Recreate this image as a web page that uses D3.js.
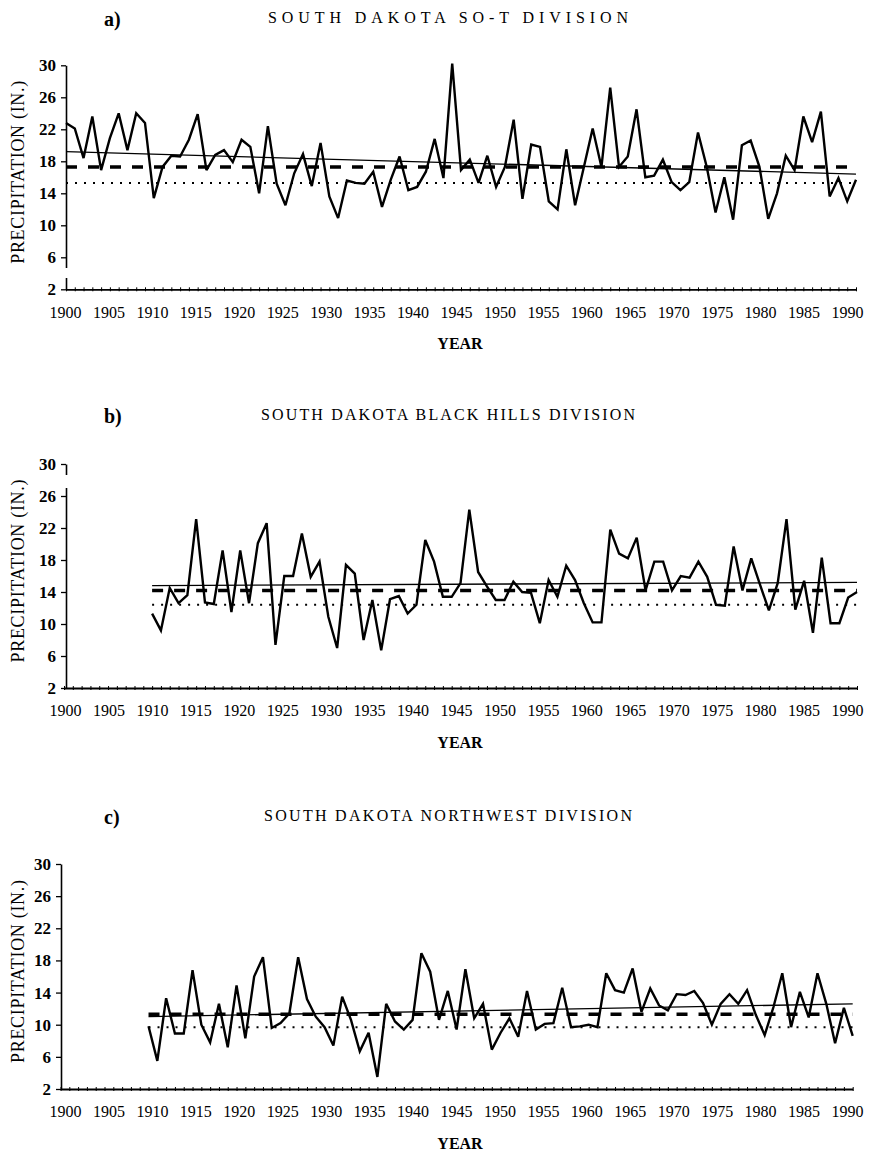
<!DOCTYPE html>
<html>
<head>
<meta charset="utf-8">
<script src="https://cdn.jsdelivr.net/npm/d3@7"></script>
<style>
  body { margin: 0; background: #fff; }
  svg text { font-family: "Liberation Serif", "Times New Roman", serif !important; fill: #000; }
</style>
</head>
<body>
<div id="chart"></div>
<script>
// annual precipitation (in.)
var sotStart = 1900;
var sotPrecip = [22.8, 22.1, 18.4, 23.6, 16.9, 20.9, 24.0, 19.4, 24.0, 22.8,
  13.4, 17.3, 18.7, 18.6, 20.7, 23.9, 16.9, 18.8, 19.4, 17.9,
  20.7, 19.8, 14.0, 22.4, 15.2, 12.5, 16.5, 18.9, 14.9, 20.3,
  13.6, 10.9, 15.6, 15.3, 15.2, 16.7, 12.3, 15.7, 18.6, 14.4,
  14.8, 16.7, 20.8, 15.9, 30.2, 16.9, 18.2, 15.3, 18.7, 14.8,
  17.3, 23.2, 13.3, 20.1, 19.8, 13.0, 12.0, 19.5, 12.5, 17.3,
  22.1, 17.3, 27.2, 17.3, 18.6, 24.5, 16.0, 16.2, 18.2, 15.4,
  14.4, 15.4, 21.6, 17.3, 11.6, 16.0, 10.7, 20.0, 20.6, 17.3,
  10.8, 14.0, 18.7, 16.9, 23.6, 20.4, 24.2, 13.6, 15.9, 13.0, 15.7];

var bhStart = 1910;
var bhPrecip = [11.3, 9.2, 14.5, 12.6, 13.6, 23.1, 12.7, 12.5, 19.2, 11.5,
  19.2, 12.6, 20.1, 22.6, 7.4, 16.0, 16.0, 21.3, 15.9, 17.8,
  10.9, 7.0, 17.4, 16.3, 8.0, 13.0, 6.7, 13.1, 13.5, 11.3,
  12.4, 20.5, 17.8, 13.4, 13.4, 15.1, 24.3, 16.5, 14.7, 13.0,
  13.0, 15.3, 14.0, 13.9, 10.1, 15.5, 13.4, 17.3, 15.5, 12.6,
  10.2, 10.2, 21.8, 18.8, 18.2, 20.8, 14.2, 17.8, 17.8, 14.2,
  16.0, 15.8, 17.8, 15.9, 12.4, 12.3, 19.7, 14.2, 18.2, 14.9,
  11.7, 15.1, 23.1, 11.8, 15.4, 8.9, 18.3, 10.1, 10.1, 13.3, 14.0];

var nwStart = 1910;
var nwPrecip = [9.8, 5.5, 13.3, 8.9, 8.9, 16.8, 10.0, 7.8, 12.6, 7.2,
  14.9, 8.3, 16.0, 18.4, 9.6, 10.2, 11.4, 18.4, 13.2, 11.0,
  9.7, 7.4, 13.5, 10.6, 6.7, 9.0, 3.5, 12.6, 10.4, 9.4,
  10.6, 18.9, 16.6, 10.6, 14.2, 9.4, 16.9, 10.8, 12.6, 6.9,
  9.0, 10.8, 8.5, 14.2, 9.4, 10.1, 10.2, 14.6, 9.7, 9.8,
  10.0, 9.7, 16.4, 14.3, 14.0, 17.0, 11.6, 14.5, 12.4, 11.8,
  13.8, 13.7, 14.2, 12.7, 10.0, 12.6, 13.8, 12.6, 14.3, 11.2,
  8.7, 12.2, 16.4, 9.7, 14.1, 10.9, 16.4, 12.6, 7.7, 12.1, 8.6];

// reference lines: linear trend [start, end], mean (dashed), lower level (dotted)
var sotTrend = [19.2, 16.4], sotMean = 17.3, sotLow = 15.3;
var bhTrend = [14.8, 15.2], bhMean = 14.2, bhLow = 12.4;
var nwTrend = [11.0, 12.6], nwMean = 11.3, nwLow = 9.7;

var yTicks = [2, 6, 10, 14, 18, 22, 26, 30];
var yearTicks = [1900, 1905, 1910, 1915, 1920, 1925, 1930, 1935, 1940, 1945,
  1950, 1955, 1960, 1965, 1970, 1975, 1980, 1985, 1990];

var panelLetters = ["a)", "b)", "c)"];
var panelTitles = ["SOUTH DAKOTA SO-T DIVISION",
  "SOUTH DAKOTA BLACK HILLS DIVISION",
  "SOUTH DAKOTA NORTHWEST DIVISION"];

var serif = '"Liberation Serif", "Times New Roman", serif';

var svgWidth = 873;
var svgHeight = 1154;

var svg = d3.select("#chart")
  .append("svg")
  .attr("width", svgWidth)
  .attr("height", svgHeight);

// layout of each panel on the page
var panels = [
  { start: sotStart, values: sotPrecip, trend: sotTrend, mean: sotMean, low: sotLow,
    axisX: 66, x0: 66, x1: 856, yTop: 65.3, yBottom: 289.3, top: 0, titleW: 360, gap: [268, 278] },
  { start: bhStart, values: bhPrecip, trend: bhTrend, mean: bhMean, low: bhLow,
    axisX: 66, x0: 64, x1: 857, yTop: 464, yBottom: 688, top: 397, titleW: 374, gap: [475, 488] },
  { start: nwStart, values: nwPrecip, trend: nwTrend, mean: nwMean, low: nwLow,
    axisX: 61, x0: 60.5, x1: 852.7, yTop: 864, yBottom: 1089, top: 798, titleW: 368, gap: null }
];

panels.forEach(function(p, i) {
  var g = svg.append("g");

  var xScale = d3.scaleLinear().domain([1900, 1990]).range([p.x0, p.x1]);
  var yScale = d3.scaleLinear().domain([2, 30]).range([p.yBottom, p.yTop]);
  // printed year labels sit on their own spacing in the original
  var labelScale = d3.scaleLinear().domain([1900, 1990]).range([65, 847]);

  var series = p.values.map(function(v, k) { return { year: p.start + k, value: v }; });
  var first = p.start, last = p.start + p.values.length - 1;

  // panel letter and title
  g.append("text")
    .attr("x", 104).attr("y", p.top + 26)
    .style("font-size", "20px").style("font-weight", "bold")
    .text(panelLetters[i]);

  g.append("text")
    .attr("x", 448 - p.titleW / 2).attr("y", p.top + 23)
    .style("font-size", "16px")
    .attr("textLength", p.titleW)
    .attr("lengthAdjust", "spacing")
    .text(panelTitles[i]);

  // y axis
  var yAxis = g.append("g")
    .attr("transform", `translate(${p.axisX}, 0)`)
    .call(d3.axisLeft(yScale).tickValues(yTicks).tickSize(5).tickSizeOuter(0).tickPadding(5));
  yAxis.select(".domain").attr("stroke-width", 1.6);
  yAxis.selectAll(".tick line").attr("stroke-width", 1.3);
  yAxis.selectAll("text")
    .style("font-size", "17px").style("font-weight", "bold")
    .style("font-family", serif);

  if (p.gap) {
    g.append("rect")
      .attr("x", p.axisX - 2).attr("y", p.gap[0])
      .attr("width", 4).attr("height", p.gap[1] - p.gap[0])
      .attr("fill", "#fff");
  }

  g.append("text")
    .attr("transform", `translate(24, ${(p.yTop + p.yBottom) / 2 - 5}) rotate(-90)`)
    .attr("text-anchor", "middle")
    .style("font-size", "18px")
    .attr("textLength", 183)
    .attr("lengthAdjust", "spacing")
    .text("PRECIPITATION (IN.)");

  // x axis line with yearly ticks
  var xAxis = g.append("g")
    .attr("transform", `translate(0, ${yScale(2)})`)
    .call(d3.axisBottom(xScale).tickValues(d3.range(1900, 1991)).tickSize(2).tickSizeOuter(0).tickFormat(""));
  xAxis.select(".domain").attr("stroke-width", 1.8);
  xAxis.selectAll(".tick line").attr("y1", -2).attr("stroke-width", 1);

  var labels = g.append("g")
    .attr("transform", `translate(0, ${yScale(2)})`)
    .call(d3.axisBottom(labelScale).tickValues(yearTicks).tickSize(0).tickPadding(17).tickFormat(d3.format("d")));
  labels.select(".domain").remove();
  labels.selectAll("text").style("font-size", "16px").style("font-family", serif);

  g.append("text")
    .attr("x", 460).attr("y", yScale(2) + 60)
    .attr("text-anchor", "middle")
    .style("font-size", "16px").style("font-weight", "bold")
    .text("YEAR");

  // reference lines
  g.append("line")
    .attr("x1", xScale(first)).attr("x2", xScale(last))
    .attr("y1", yScale(p.low)).attr("y2", yScale(p.low))
    .attr("stroke", "#000").attr("stroke-width", 2)
    .attr("stroke-dasharray", "2,7");

  g.append("line")
    .attr("x1", xScale(first)).attr("x2", xScale(last))
    .attr("y1", yScale(p.mean)).attr("y2", yScale(p.mean))
    .attr("stroke", "#000").attr("stroke-width", 3.5)
    .attr("stroke-dasharray", "11,11");

  g.append("line")
    .attr("x1", xScale(first)).attr("x2", xScale(last))
    .attr("y1", yScale(p.trend[0])).attr("y2", yScale(p.trend[1]))
    .attr("stroke", "#000").attr("stroke-width", 1.3);

  // precipitation series
  var line = d3.line()
    .x(d => xScale(d.year))
    .y(d => yScale(d.value));

  g.append("path")
    .datum(series)
    .attr("d", line)
    .attr("fill", "none")
    .attr("stroke", "#000")
    .attr("stroke-width", 2.4)
    .attr("stroke-linejoin", "miter")
    .attr("stroke-miterlimit", 3);
});
</script>
</body>
</html>
